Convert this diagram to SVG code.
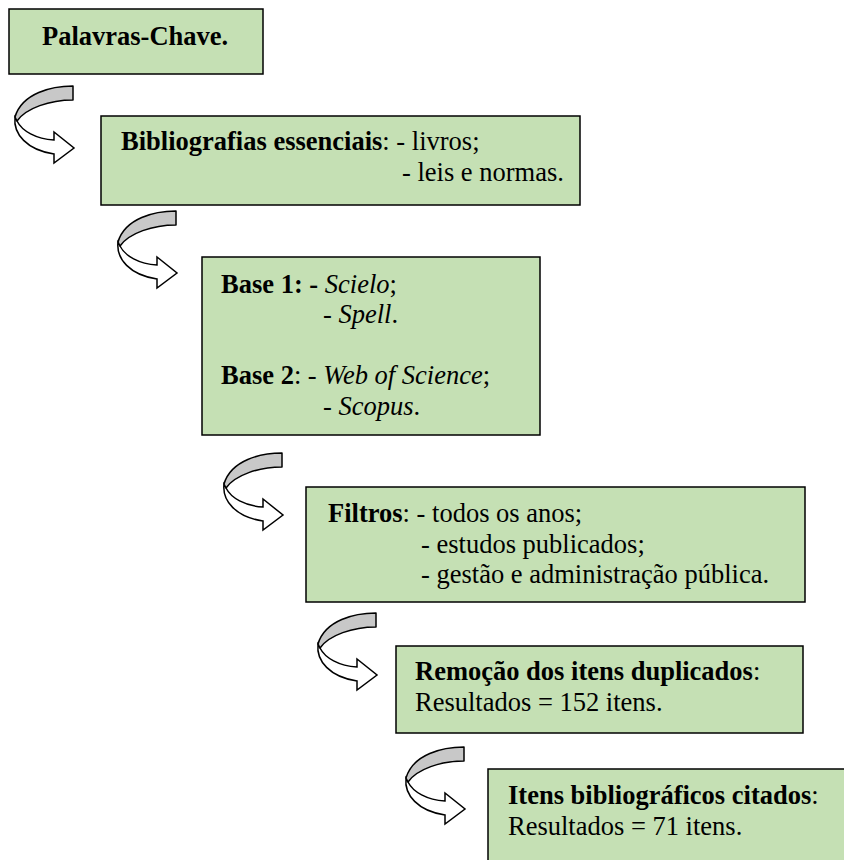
<svg xmlns="http://www.w3.org/2000/svg" xmlns:xlink="http://www.w3.org/1999/xlink" width="844" height="860" viewBox="0 0 844 860">
  <style>
    .box { fill: #c5e0b4; stroke: #000; stroke-width: 1.5; }
    .txt { font-family: 'Liberation Serif', 'Times New Roman', serif; font-size: 26.5px; fill: #000; }
    .b { font-weight: bold; }
    .i { font-style: italic; }
    .back { fill: #c8c8c8; stroke: #000; stroke-width: 1.5; stroke-linejoin: round; }
    .front { fill: #fff; stroke: #000; stroke-width: 1.5; stroke-linejoin: miter; }
  </style>
  <defs>
    <!-- twisted curved arrow: grey back face on top, white front face ending in a head -->
    <g id="curl">
      <path class="front" d="M15,117 C13,134 27,150 54,154 L54,163 L74,148 L54,132 L54,140 C36,139 22,131 17,121 Z"/>
      <path class="back" d="M73,86 C52,86 22,93 15,117 L17,121 C26,108 50,100 73,100 Z"/>
    </g>
  </defs>
  <rect width="844" height="860" fill="#fff"/>

  <g id="connectors">
    <use xlink:href="#curl"/>
    <use xlink:href="#curl" transform="translate(103,125)"/>
    <use xlink:href="#curl" transform="translate(209,367)"/>
    <use xlink:href="#curl" transform="translate(303,527)"/>
    <use xlink:href="#curl" transform="translate(391,661)"/>
  </g>

  <g id="palavras-chave">
    <rect class="box" x="9" y="9" width="254" height="65"/>
    <text class="txt b" x="42" y="45">Palavras-Chave.</text>
  </g>

  <g id="bibliografias">
    <rect class="box" x="101" y="116" width="479" height="89"/>
    <text class="txt" x="121" y="150"><tspan class="b">Bibliografias essenciais</tspan>: - livros;</text>
    <text class="txt" x="402" y="180.5">- leis e normas.</text>
  </g>

  <g id="bases">
    <rect class="box" x="202" y="257" width="338" height="178"/>
    <text class="txt" x="221" y="292.5"><tspan class="b">Base 1: - </tspan><tspan class="i">Scielo</tspan>;</text>
    <text class="txt" x="323" y="323">- <tspan class="i">Spell</tspan>.</text>
    <text class="txt" x="221" y="384"><tspan class="b">Base 2</tspan>: - <tspan class="i">Web of Science</tspan>;</text>
    <text class="txt" x="323" y="414.5">- <tspan class="i">Scopus</tspan>.</text>
  </g>

  <g id="filtros">
    <rect class="box" x="306" y="487" width="499" height="115"/>
    <text class="txt" x="328" y="522"><tspan class="b">Filtros</tspan>: - todos os anos;</text>
    <text class="txt" x="421" y="552.5">- estudos publicados;</text>
    <text class="txt" x="421" y="583">- gestão e administração pública.</text>
  </g>

  <g id="remocao">
    <rect class="box" x="396" y="646" width="407" height="87"/>
    <text class="txt" x="415" y="680"><tspan class="b">Remoção dos itens duplicados</tspan>:</text>
    <text class="txt" x="415" y="710.5">Resultados = 152 itens.</text>
  </g>

  <g id="itens-citados">
    <rect class="box" x="488" y="769" width="370" height="110"/>
    <text class="txt" x="508" y="804"><tspan class="b">Itens bibliográficos citados</tspan>:</text>
    <text class="txt" x="508" y="834.5">Resultados = 71 itens.</text>
  </g>
</svg>
